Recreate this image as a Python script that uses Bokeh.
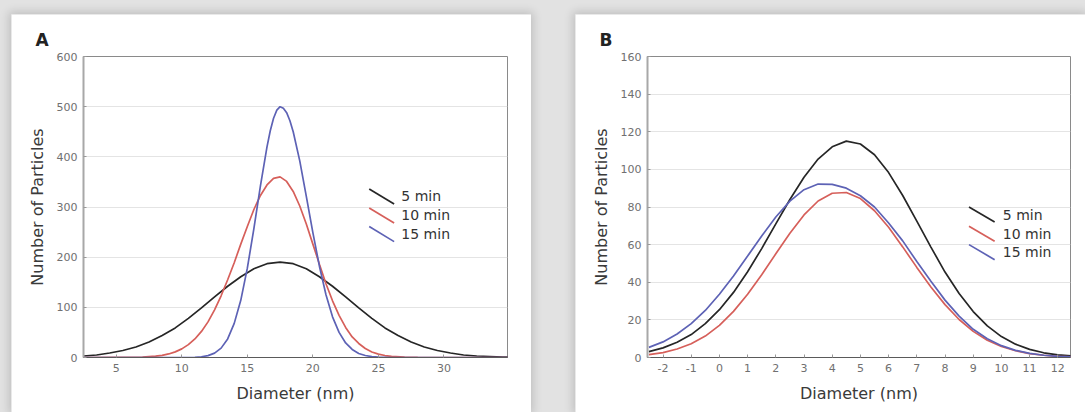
from bokeh.plotting import figure
from bokeh.models import Label, FixedTicker, Range1d, Spacer, Title
from bokeh.layouts import row, column
from bokeh.embed import file_html
from bokeh.resources import INLINE

# ---------------- data ----------------
series_names = ["5 min", "10 min", "15 min"]

# Panel A
a_x_5 = [2.5, 3.5, 4.5, 5.5, 6.5, 7.5, 8.5, 9.5, 10.5, 11.5, 12.5, 13.5, 14.5, 15.5, 16.5,
         17.5, 18.5, 19.5, 20.5, 21.5, 22.5, 23.5, 24.5, 25.5, 26.5, 27.5, 28.5, 29.5, 30.5,
         31.5, 32.5, 33.5, 34.5, 35]
a_y_5 = [3, 5, 9, 14, 21, 31, 44, 59, 78, 99, 121, 142, 161, 177, 187, 190, 187, 177, 161,
         142, 121, 99, 78, 59, 44, 31, 21, 14, 9, 5, 3, 2, 1, 1]

a_x_10 = [2.5, 7, 8, 8.5, 9, 9.5, 10, 10.5, 11, 11.5, 12, 12.5, 13, 13.5, 14, 14.5, 15, 15.5,
          16, 16.5, 17, 17.5, 18, 18.5, 19, 19.5, 20, 20.5, 21, 21.5, 22, 22.5, 23, 23.5, 24,
          24.5, 25, 25.5, 26, 27, 28, 35]
a_y_10 = [0, 0.8, 2.7, 4.4, 7.1, 11.2, 17.2, 25.6, 37, 52, 71, 95, 123, 155, 189, 226, 261,
          295, 323, 344, 357, 360, 351, 331, 302, 266, 226, 186, 147, 113, 84, 60, 41, 28, 18,
          11, 6.7, 3.9, 2.2, 0.6, 0.1, 0]

a_x_15 = [2.5, 10, 11, 11.5, 12, 12.5, 13, 13.5, 14, 14.5, 15, 15.5, 16, 16.5, 16.75, 17, 17.25,
          17.5, 17.75, 18, 18.25, 18.5, 19, 19.5, 20, 20.5, 21, 21.5, 22, 22.5, 23, 23.5, 24,
          24.5, 25, 26, 35]
a_y_15 = [0, 0, 0.5, 1.5, 3.8, 8.7, 18.7, 37, 68, 114, 178, 257, 342, 420, 452, 477, 493,
          500, 497, 488, 472, 450, 392, 321, 249, 182, 125, 81, 50, 29, 16, 8, 4, 1.8, 0.8, 0, 0]

# Panel B
b_x = [-2.5, -2, -1.5, -1, -0.5, 0, 0.5, 1, 1.5, 2, 2.5, 3, 3.5, 4, 4.5, 5, 5.5, 6, 6.5, 7,
       7.5, 8, 8.5, 9, 9.5, 10, 10.5, 11, 11.5, 12, 12.5]
b_y_5 = [3.1, 5.1, 8.1, 12.2, 18, 25.4, 34.6, 45.6, 57.9, 71, 84, 95.8, 105.5, 112, 115, 113.5,
         107.8, 98.3, 86.1, 72.5, 58.7, 45.4, 34, 24.4, 16.8, 11.1, 7.1, 4.3, 2.5, 1.4, 0.8]
b_y_10 = [1.5, 2.6, 4.5, 7.3, 11.4, 17.1, 24.5, 33.6, 44, 55.1, 66, 75.8, 83.2, 87.3, 87.7, 84.5,
          78, 69.2, 58.8, 47.9, 37.5, 28.1, 20.2, 13.9, 9.2, 5.9, 3.6, 2.1, 1.2, 0.6, 0.3]
b_y_15 = [5.4, 8.3, 12.5, 18, 25, 33.6, 43.3, 53.9, 64.6, 74.7, 83.1, 89.2, 92.2, 92, 90, 86,
          80, 71.5, 62, 51, 40.5, 30.5, 22, 15, 10, 6.3, 3.8, 2.2, 1.2, 0.6, 0.3]

a_xticks = [5, 10, 15, 20, 25, 30]
a_yticks = [0, 100, 200, 300, 400, 500, 600]
b_xticks = list(range(-2, 13))
b_yticks = [0, 20, 40, 60, 80, 100, 120, 140, 160]
b_xtick_labels = {t: str(t) for t in b_xticks}

# ---------------- styling ----------------
COLORS = ["#262626", "#d65f5a", "#5d62b5"]
FONT = "DejaVu Sans"
BG = "#e2e2e2"


def make_panel(letter, xr, yr, xticks, yticks, series, legend, width, bl, br, xlabels=None):
    p = figure(width=width, height=398, x_range=Range1d(*xr), y_range=Range1d(*yr),
               output_backend="svg", toolbar_location=None,
               min_border_left=bl, min_border_right=br, min_border_top=42, min_border_bottom=55,
               background_fill_color="white", border_fill_color="white",
               outline_line_color="#8a8a8a", outline_line_width=1,
               styles={"box-shadow": "0 0 9px 2px rgba(0,0,0,0.16)"})
    p.xgrid.grid_line_color = None
    p.ygrid.grid_line_color = "#e4e4e4"
    p.ygrid.grid_line_width = 1
    p.xaxis.ticker = FixedTicker(ticks=xticks)
    p.yaxis.ticker = FixedTicker(ticks=yticks)
    if xlabels:
        p.xaxis.major_label_overrides = xlabels
    for ax in (p.xaxis[0], p.yaxis[0]):
        ax.major_label_text_font = FONT
        ax.major_label_text_font_size = "11px"
        ax.major_label_text_color = "#707070"
        ax.axis_label_text_font = FONT
        ax.axis_label_text_font_size = "16px"
        ax.axis_label_text_font_style = "normal"
        ax.axis_label_text_color = "#3a3a3a"
        ax.major_tick_in = 3
        ax.major_tick_out = 0
        ax.major_tick_line_color = "#999999"
        ax.minor_tick_line_color = None
        ax.major_label_standoff = 6
    p.xaxis.axis_label = "Diameter (nm)"
    p.yaxis.axis_label = "Number of Particles"
    p.xaxis.axis_label_standoff = 9
    p.yaxis.axis_label_standoff = 7
    p.xaxis.axis_line_color = "#5a5a5a"
    p.yaxis.axis_line_color = "#a8a8a8"
    p.yaxis.axis_line_width = 2

    for (xs, ys), c in zip(series, COLORS):
        p.line(xs, ys, line_color=c, line_width=1.7)

    # diagonal-swatch legend (layout positions in data units)
    lx0, lx1, tx, tys, dy_up, dy_dn = legend
    for name, ty, c in zip(series_names, tys, COLORS):
        p.segment(x0=[lx0], y0=[ty + dy_up], x1=[lx1], y1=[ty - dy_dn], line_color=c, line_width=1.7)
        p.add_layout(Label(x=tx, y=ty, text=name, text_font=FONT, text_font_size="14px",
                           text_color="#333333", text_baseline="middle", text_align="left"))

    p.add_layout(Title(text=letter, align="left", offset=-48, standoff=13,
                       text_font=FONT, text_font_size="17px", text_font_style="bold",
                       text_color="#222222"), "above")
    return p


pA = make_panel("A", (2.5, 34.85), (0, 600), a_xticks, a_yticks,
                [(a_x_5, a_y_5), (a_x_10, a_y_10), (a_x_15, a_y_15)],
                (24.3, 26.2, 26.75, [322, 284, 247], 14, 16), 520, 72, 24)
pB = make_panel("B", (-2.55, 12.45), (0, 160), b_xticks, b_yticks,
                [(b_x, b_y_5), (b_x, b_y_10), (b_x, b_y_15)],
                (8.85, 9.76, 10.05, [76, 65.8, 56], 4, 4), 510, 72, 15, b_xtick_labels)

layout = column(Spacer(height=14, width=1085),
                row(Spacer(width=11, height=398), pA, Spacer(width=44, height=398), pB,
                    spacing=0),
                spacing=0, styles={"background-color": BG}, width=1085, height=412)

open("out.html", "w").write(file_html(layout, INLINE))
